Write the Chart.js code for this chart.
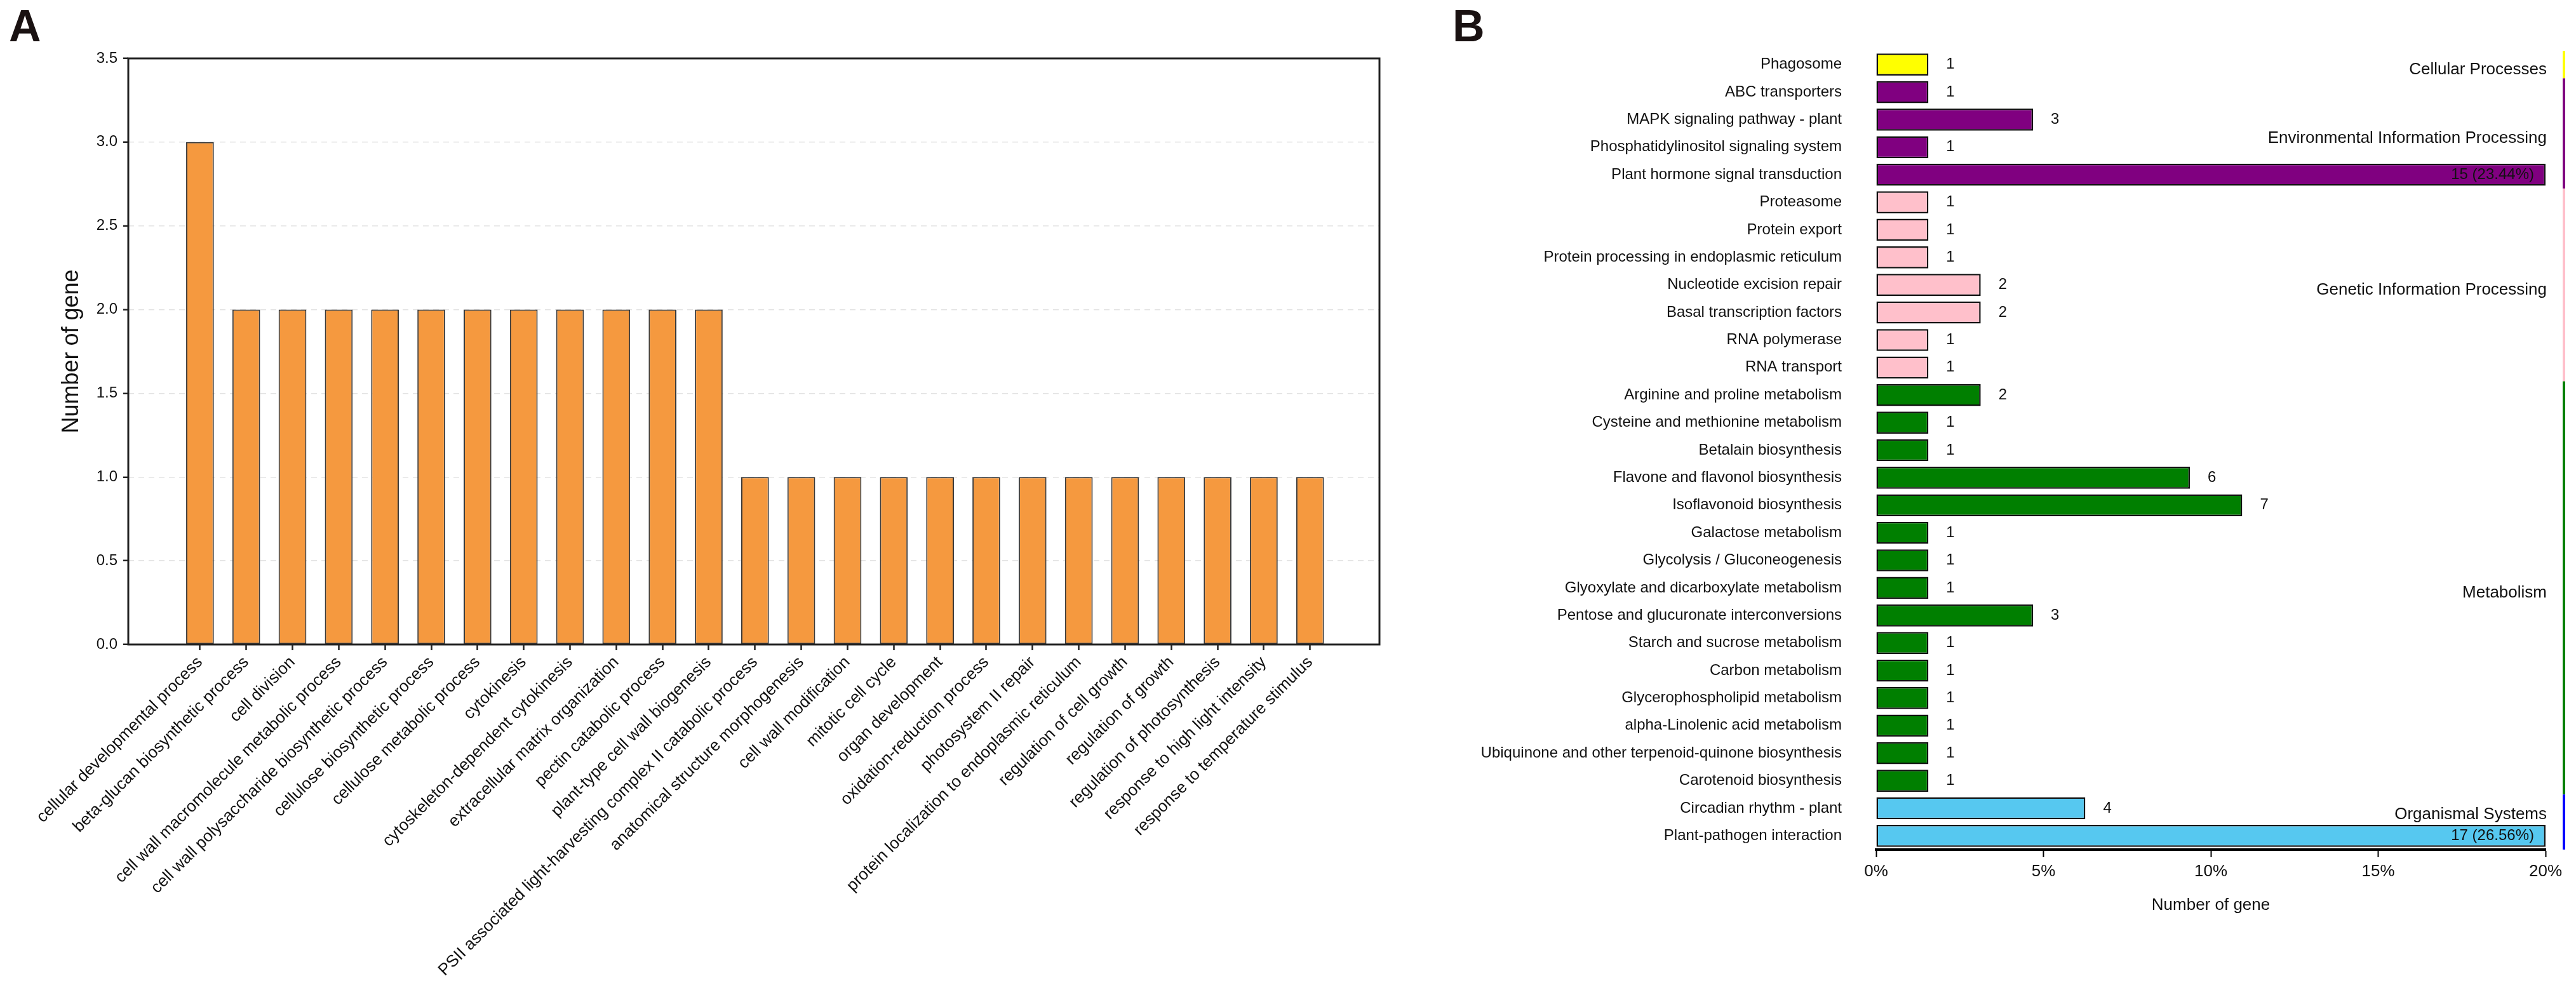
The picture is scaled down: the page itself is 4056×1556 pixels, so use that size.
<!DOCTYPE html>
<html>
<head>
<meta charset="utf-8">
<script src="https://cdn.jsdelivr.net/npm/chart.js@4.4.1/dist/chart.umd.min.js"></script>
<style>
  html, body { margin: 0; padding: 0; background: #ffffff; }
  body { width: 4056px; height: 1556px; position: relative; overflow: hidden; }
  canvas { position: absolute; top: 0; }
  #cA { left: 0; }
  #cB { left: 2250px; }
</style>
</head>
<body>
<canvas id="cA" width="2250" height="1556"></canvas>
<canvas id="cB" width="1806" height="1556"></canvas>
<script>
// ---------- Panel A data (GO terms) ----------
const goTerms = [
  'cellular developmental process',
  'beta-glucan biosynthetic process',
  'cell division',
  'cell wall macromolecule metabolic process',
  'cell wall polysaccharide biosynthetic process',
  'cellulose biosynthetic process',
  'cellulose metabolic process',
  'cytokinesis',
  'cytoskeleton-dependent cytokinesis',
  'extracellular matrix organization',
  'pectin catabolic process',
  'plant-type cell wall biogenesis',
  'PSII associated light-harvesting complex II catabolic process',
  'anatomical structure morphogenesis',
  'cell wall modification',
  'mitotic cell cycle',
  'organ development',
  'oxidation-reduction process',
  'photosystem II repair',
  'protein localization to endoplasmic reticulum',
  'regulation of cell growth',
  'regulation of growth',
  'regulation of photosynthesis',
  'response to high light intensity',
  'response to temperature stimulus'
];
const goCounts = [3, 2, 2, 2, 2, 2, 2, 2, 2, 2, 2, 2, 1, 1, 1, 1, 1, 1, 1, 1, 1, 1, 1, 1, 1];
const goYTicks = [0, 0.5, 1.0, 1.5, 2.0, 2.5, 3.0, 3.5];

// ---------- Panel B data (KEGG pathways) ----------
const keggTerms = [
  'Phagosome',
  'ABC transporters',
  'MAPK signaling pathway - plant',
  'Phosphatidylinositol signaling system',
  'Plant hormone signal transduction',
  'Proteasome',
  'Protein export',
  'Protein processing in endoplasmic reticulum',
  'Nucleotide excision repair',
  'Basal transcription factors',
  'RNA polymerase',
  'RNA transport',
  'Arginine and proline metabolism',
  'Cysteine and methionine metabolism',
  'Betalain biosynthesis',
  'Flavone and flavonol biosynthesis',
  'Isoflavonoid biosynthesis',
  'Galactose metabolism',
  'Glycolysis / Gluconeogenesis',
  'Glyoxylate and dicarboxylate metabolism',
  'Pentose and glucuronate interconversions',
  'Starch and sucrose metabolism',
  'Carbon metabolism',
  'Glycerophospholipid metabolism',
  'alpha-Linolenic acid metabolism',
  'Ubiquinone and other terpenoid-quinone biosynthesis',
  'Carotenoid biosynthesis',
  'Circadian rhythm - plant',
  'Plant-pathogen interaction'
];
const keggCounts = [1, 1, 3, 1, 15, 1, 1, 1, 2, 2, 1, 1, 2, 1, 1, 6, 7, 1, 1, 1, 3, 1, 1, 1, 1, 1, 1, 4, 17];
const keggTotal = 64;   // 15 -> 23.44 %, 17 -> 26.56 %
const keggGroups = ['Cellular Processes', 'Environmental Information Processing',
                    'Genetic Information Processing', 'Metabolism', 'Organismal Systems'];
const keggGroupSizes = [1, 4, 7, 15, 2];
const keggBarColors = ['#FFFF00', '#800080', '#FFC0CB', '#007F00', '#56C8F0'];
const keggLineColors = ['#FFFF00', '#800080', '#FFC0CB', '#008000', '#0000FF'];
const keggXTicks = [0, 5, 10, 15, 20];

// ---------- common ----------
Chart.defaults.font.family = "'Liberation Sans', Arial, Helvetica, sans-serif";
Chart.defaults.color = '#111111';
const TXT = '#111111';

// ---------- Panel A ----------
const frameA = {
  id: 'frameA',
  afterDraw(chart) {
    const {ctx, chartArea: a} = chart;
    ctx.save();
    ctx.strokeStyle = '#222222';
    ctx.lineWidth = 3;
    ctx.strokeRect(a.left, a.top, a.right - a.left, a.bottom - a.top);
    ctx.fillStyle = '#1a1212';
    ctx.font = "bold 70px 'Liberation Sans', Arial, sans-serif";
    ctx.textBaseline = 'alphabetic';
    ctx.textAlign = 'left';
    ctx.fillText('A', 14, 65);
    ctx.restore();
  }
};

new Chart(document.getElementById('cA'), {
  type: 'bar',
  data: {
    datasets: [{
      data: goCounts.map((v, i) => ({x: i, y: v})),
      backgroundColor: '#F5993F',
      borderColor: '#3a3a3a',
      borderWidth: 2,
      borderSkipped: false,
      barPercentage: 0.6,
      categoryPercentage: 1.0
    }]
  },
  options: {
    responsive: false,
    animation: false,
    devicePixelRatio: 1,
    layout: {padding: {top: 92, right: 78, left: 0, bottom: 0}},
    plugins: {legend: {display: false}, tooltip: {enabled: false}},
    scales: {
      x: {
        type: 'linear',
        offset: false,
        min: -1.55,
        max: 25.5,
        afterBuildTicks: s => { s.ticks = goTerms.map((_, i) => ({value: i})); },
        afterFit: s => { s.height = 541; s.paddingLeft = 0; s.paddingRight = 0; },
        ticks: {
          autoSkip: false,
          minRotation: 45,
          maxRotation: 45,
          padding: 4,
          color: TXT,
          font: {size: 26},
          callback: v => goTerms[v]
        },
        grid: {offset: false, drawOnChartArea: false, drawTicks: true, tickLength: 9, tickColor: '#222', tickWidth: 2.5},
        border: {display: false}
      },
      y: {
        min: 0,
        max: 3.5,
        afterBuildTicks: s => { s.ticks = goYTicks.map(v => ({value: v})); },
        afterFit: s => { s.width = 202; },
        ticks: {color: TXT, font: {size: 24}, padding: 9, callback: v => Number(v).toFixed(1)},
        grid: {color: '#e3e3e3', lineWidth: 1.5, tickLength: 8, tickColor: '#222', tickWidth: 2.5},
        border: {display: false, dash: [9, 7]},
        title: {display: true, text: 'Number of gene', color: TXT, font: {size: 36}, padding: {top: 91, bottom: 0}}
      }
    }
  },
  plugins: [frameA]
});

// ---------- Panel B ----------
const keggPct = keggCounts.map(c => c / keggTotal * 100);
const keggRowGroup = [];
keggGroupSizes.forEach((n, g) => { for (let k = 0; k < n; k++) keggRowGroup.push(g); });
const X_MAX_B = 20;

const decorB = {
  id: 'decorB',
  afterDatasetsDraw(chart) {
    const {ctx, chartArea: a} = chart;
    const meta = chart.getDatasetMeta(0);
    const yS = chart.scales.y;
    ctx.save();
    ctx.fillStyle = TXT;
    ctx.font = "24px 'Liberation Sans', Arial, sans-serif";
    ctx.textBaseline = 'middle';
    meta.data.forEach((el, i) => {
      if (keggPct[i] > X_MAX_B) {
        ctx.textAlign = 'right';
        ctx.fillText(keggCounts[i] + ' (' + keggPct[i].toFixed(2) + '%)', a.right - 18, el.y);
      } else {
        ctx.textAlign = 'left';
        ctx.fillText(String(keggCounts[i]), el.x + 28, el.y);
      }
    });
    // group bars and names
    const band = Math.abs(yS.getPixelForValue(1) - yS.getPixelForValue(0));
    const shift = {'Organismal Systems': -0.45};
    let start = 0;
    ctx.font = "26px 'Liberation Sans', Arial, sans-serif";
    keggGroups.forEach((g, gi) => {
      const end = start + keggGroupSizes[gi] - 1;
      const y1 = yS.getPixelForValue(start) - band / 2;
      const y2 = yS.getPixelForValue(end) + band / 2;
      ctx.fillStyle = keggLineColors[gi];
      ctx.fillRect(1785, y1, 4, y2 - y1);
      const mid = (start + end) / 2 + 0.18 + (shift[g] || 0);
      ctx.fillStyle = TXT;
      ctx.textAlign = 'right';
      ctx.fillText(g, 1760, yS.getPixelForValue(mid));
      start = end + 1;
    });
    ctx.fillStyle = '#1a1212';
    ctx.font = "bold 70px 'Liberation Sans', Arial, sans-serif";
    ctx.textAlign = 'left';
    ctx.textBaseline = 'alphabetic';
    ctx.fillText('B', 37, 65);
    ctx.restore();
  }
};

new Chart(document.getElementById('cB'), {
  type: 'bar',
  data: {
    labels: keggTerms,
    datasets: [{
      data: keggPct.map(p => Math.min(p, X_MAX_B)),
      backgroundColor: keggRowGroup.map(g => keggBarColors[g]),
      borderColor: '#111111',
      borderWidth: 2.5,
      borderSkipped: false,
      barPercentage: 0.8,
      categoryPercentage: 1.0
    }]
  },
  options: {
    indexAxis: 'y',
    responsive: false,
    animation: false,
    devicePixelRatio: 1,
    layout: {padding: {top: 80, right: 48, left: 0, bottom: 0}},
    plugins: {legend: {display: false}, tooltip: {enabled: false}},
    scales: {
      x: {
        min: 0,
        max: X_MAX_B,
        afterBuildTicks: s => { s.ticks = keggXTicks.map(v => ({value: v})); },
        afterFit: s => { s.height = 218; },
        ticks: {color: TXT, font: {size: 26}, padding: 7, callback: v => v + '%'},
        grid: {drawOnChartArea: false, drawTicks: true, tickLength: 12, tickColor: '#000', tickWidth: 2},
        border: {display: true, color: '#000', width: 4},
        title: {display: true, text: 'Number of gene', color: TXT, font: {size: 26}, padding: {top: 0, bottom: 115}}
      },
      y: {
        afterFit: s => { s.width = 704; },
        ticks: {color: TXT, font: {size: 24}, padding: 54, autoSkip: false},
        grid: {display: false, drawTicks: false},
        border: {display: false}
      }
    }
  },
  plugins: [decorB]
});
</script>
</body>
</html>
